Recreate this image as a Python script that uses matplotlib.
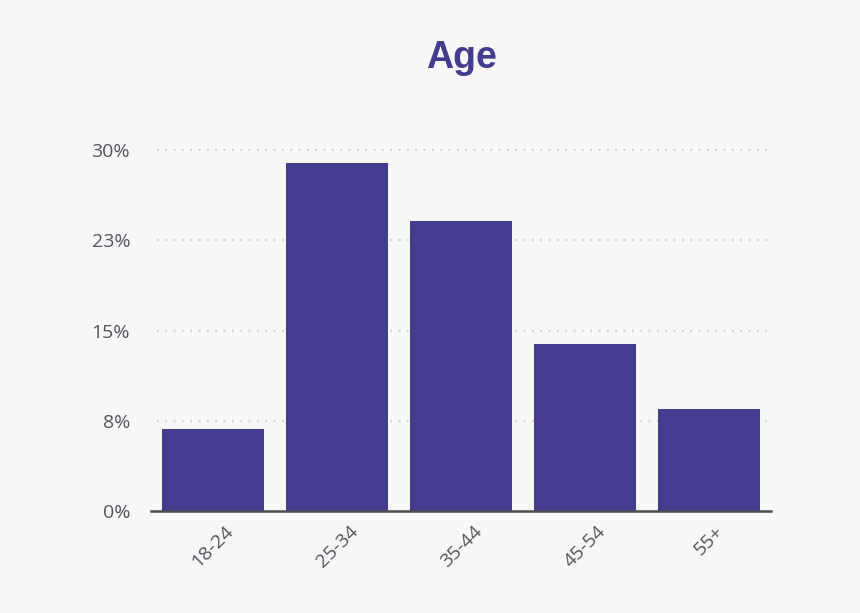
import numpy as np
import matplotlib
matplotlib.use('Agg')
import matplotlib.pyplot as plt

categories = ['18-24', '25-34', '35-44', '45-54', '55+']
values = [6.8, 28.9, 24.1, 13.9, 8.5]
ytick_vals = [0, 7.5, 15, 22.5, 30]
ytick_labels = ['0%', '8%', '15%', '23%', '30%']

bar_color = '#433C8F'
bg = '#F7F7F7'

fig = plt.figure(figsize=(8.6, 6.13), dpi=100, facecolor=bg)
ax = fig.add_axes([0.1756, 0.1664, 0.7209, 0.6085], facecolor=bg)

x = np.arange(len(categories))
ax.bar(x, values, width=0.83, color=bar_color, zorder=3)

ax.set_xlim(-0.5, 4.5)
ax.set_ylim(0, 31)
ax.set_yticks(ytick_vals)
ax.set_yticklabels(ytick_labels)
ax.set_xticks(x)
ax.set_xticklabels(categories, rotation=45, ha='center')

for lab in ax.get_xticklabels() + ax.get_yticklabels():
    lab.set_family('Open Sans')
    lab.set_fontsize(14)
    lab.set_color('#555560')

ax.tick_params(axis='both', length=0)
ax.tick_params(axis='y', pad=15)
ax.tick_params(axis='x', pad=8)

# dotted gridlines stop a little short of the axis ends
ax.hlines(ytick_vals[1:], -0.45, 4.47, colors='#C8C8C8', linestyles=(0, (1, 4)),
          linewidth=1.2, zorder=0)
for s in ['top', 'right', 'left']:
    ax.spines[s].set_visible(False)
ax.spines['bottom'].set_color('#4D4D55')
ax.spines['bottom'].set_linewidth(1.8)
ax.spines['bottom'].set_zorder(4)

fig.text(0.5365, 0.905, 'Age', ha='center', va='center', fontsize=27,
         fontweight='bold', family='Liberation Sans', color=bar_color)

plt.savefig('out.png', dpi=100, facecolor=bg)
plt.close()
